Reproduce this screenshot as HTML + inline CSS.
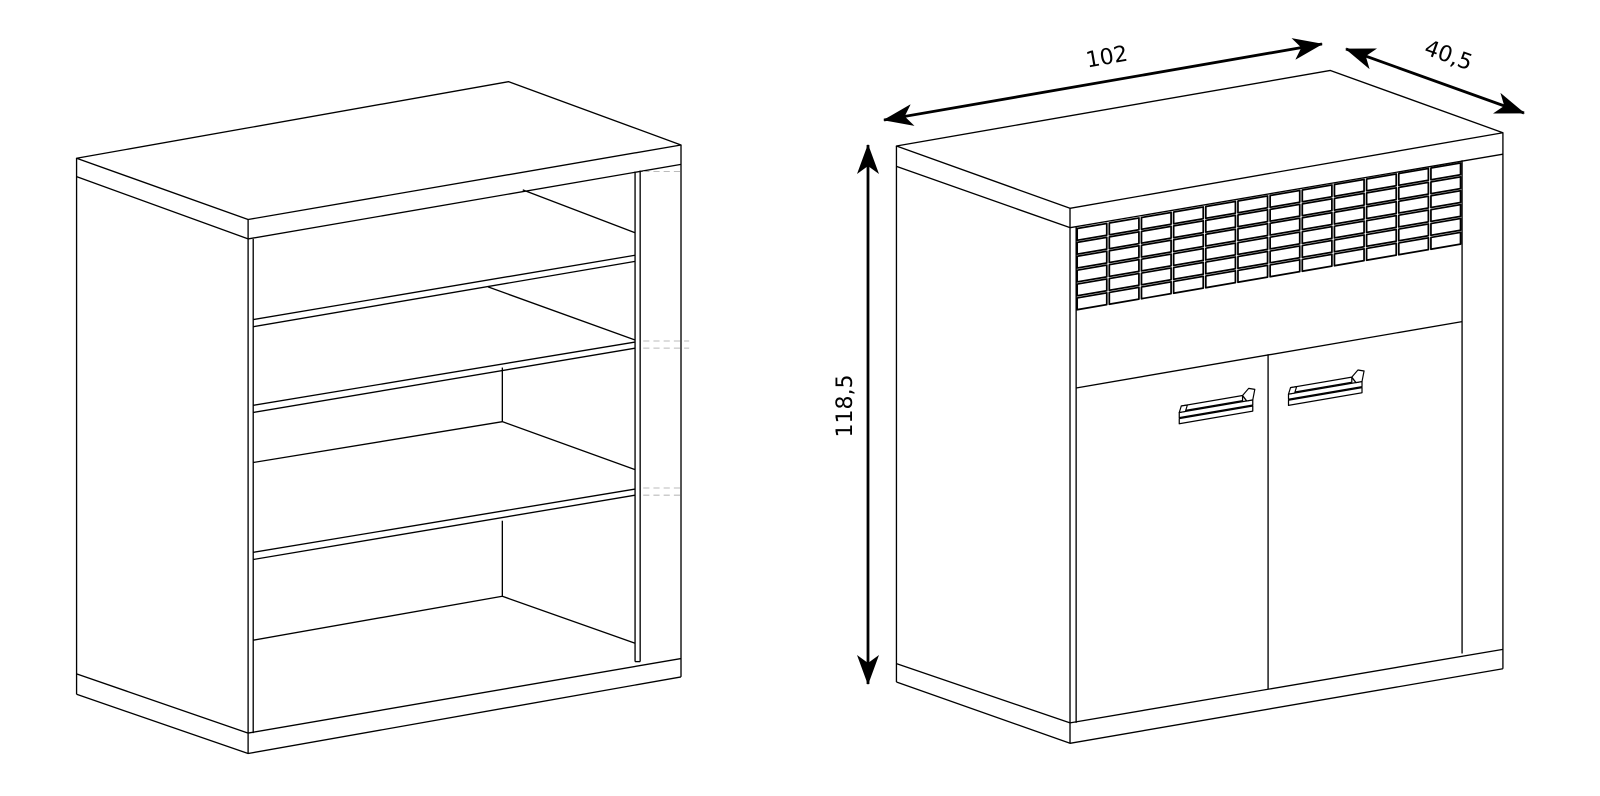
<!DOCTYPE html>
<html><head><meta charset="utf-8"><style>
html,body{margin:0;padding:0;background:#fff;}
svg{display:block;}
text{font-family:"DejaVu Sans","Liberation Sans",sans-serif;}
</style></head><body>
<svg width="1600" height="796" viewBox="0 0 1600 796" xmlns="http://www.w3.org/2000/svg">
<defs>
<marker id="ah" viewBox="0 0 30 22" refX="29" refY="11" markerWidth="30" markerHeight="22" markerUnits="userSpaceOnUse" orient="auto-start-reverse">
<path d="M0,0 L30,11 L0,22 L8,11 Z" fill="#000"/>
</marker>
</defs>
<g transform="scale(1.021)" fill="none" stroke="#000" stroke-width="1.3" stroke-linejoin="round">
<!-- LEFT CABINET -->
<polygon points="75,155 498,80 667,142 243,215" fill="#fff"/>
<polyline points="75,173 243,234 667,161"/>
<line x1="75" y1="155" x2="75" y2="680"/>
<line x1="243" y1="215" x2="243" y2="738"/>
<line x1="667" y1="142" x2="667" y2="663"/>
<polyline points="75,660 243,718 667,645"/>
<polyline points="75,680 243,738 667,663"/>
<line x1="248" y1="234" x2="248" y2="718"/>
<line x1="622" y1="168" x2="622" y2="648"/>
<line x1="627" y1="167" x2="627" y2="648"/>
<line x1="622" y1="648" x2="627" y2="648"/>
<!-- shelves -->
<line x1="248" y1="313" x2="622" y2="250"/>
<line x1="248" y1="320" x2="622" y2="256"/>
<line x1="248" y1="397" x2="622" y2="335"/>
<line x1="248" y1="404" x2="622" y2="341"/>
<line x1="248" y1="541" x2="622" y2="479"/>
<line x1="248" y1="548" x2="622" y2="485"/>
<!-- back lines -->
<line x1="512" y1="186" x2="622" y2="228"/>
<line x1="478" y1="281" x2="622" y2="333"/>
<line x1="492" y1="360" x2="492" y2="413"/>
<polyline points="248,453 492,413 622,460"/>
<line x1="492" y1="510" x2="492" y2="584"/>
<polyline points="248,627 492,584 622,630"/>
<g stroke="#bbb" stroke-width="1" stroke-dasharray="6,4">
<line x1="630" y1="168" x2="666" y2="168"/>
<line x1="630" y1="334" x2="675" y2="334"/>
<line x1="630" y1="341" x2="675" y2="341"/>
<line x1="630" y1="478" x2="666" y2="478"/>
<line x1="630" y1="485" x2="666" y2="485"/>
</g>
<!-- RIGHT CABINET -->
<polygon points="878,143 1303,69 1472,130 1048,204" fill="#fff"/>
<polyline points="878,163 1048,223 1472,151"/>
<line x1="878" y1="143" x2="878" y2="668"/>
<line x1="1048" y1="204" x2="1048" y2="728"/>
<line x1="1472" y1="130" x2="1472" y2="655"/>
<polyline points="878,650 1048,708 1472,636"/>
<polyline points="878,668 1048,728 1472,655"/>
<line x1="1054" y1="222" x2="1054" y2="708"/>
<line x1="1432" y1="157" x2="1432" y2="640"/>
<line x1="1054" y1="380" x2="1432" y2="315"/>
<line x1="1242" y1="347" x2="1242" y2="675"/>
<!-- grid -->
<g transform="translate(1054,223) matrix(1,-0.171,0,1,0,0)" stroke-width="1.7" fill="#fff">
<g id="col">
<rect x="1" y="1" width="29" height="11.5"/><rect x="1" y="14.6" width="29" height="11.5"/><rect x="1" y="28.2" width="29" height="11.5"/><rect x="1" y="41.8" width="29" height="11.5"/><rect x="1" y="55.4" width="29" height="11.5"/><rect x="1" y="69" width="29" height="11.5"/>
</g>
<use href="#col" x="31.5"/><use href="#col" x="63"/><use href="#col" x="94.5"/><use href="#col" x="126"/><use href="#col" x="157.5"/><use href="#col" x="189"/><use href="#col" x="220.5"/><use href="#col" x="252"/><use href="#col" x="283.5"/><use href="#col" x="315"/><use href="#col" x="346.5"/>
</g>
<!-- handles -->
<g id="hd" transform="translate(1155,400) matrix(1,-0.171,0,1,0,0)" stroke-width="1.2" fill="#fff">
<rect x="0" y="4" width="72" height="5"/>
<rect x="0" y="10" width="72" height="5"/>
<rect x="2" y="-2" width="60" height="5"/>
<polygon points="0,4 2,-2 8,-2 6,4"/>
<polygon points="62,-2 68,-8 74,-6 72,4 66,4"/>
</g>
<use href="#hd" transform="translate(107,-18)"/>
</g>
<!-- DIMENSIONS (unscaled coords) -->
<g stroke="#000" stroke-width="2.8" fill="none">
<line x1="884" y1="120" x2="1322" y2="44" marker-start="url(#ah)" marker-end="url(#ah)"/>
<line x1="1346" y1="49" x2="1524" y2="113" marker-start="url(#ah)" marker-end="url(#ah)"/>
<line x1="868" y1="145" x2="868" y2="684" marker-start="url(#ah)" marker-end="url(#ah)"/>
</g>
<text x="1108" y="64" font-size="22" text-anchor="middle" transform="rotate(-10 1108 64)">102</text>
<text x="1446" y="62" font-size="22" text-anchor="middle" transform="rotate(20 1446 62)">40,5</text>
<text x="852" y="406" font-size="22" text-anchor="middle" transform="rotate(-90 852 406)">118,5</text>
</svg>
</body></html>
